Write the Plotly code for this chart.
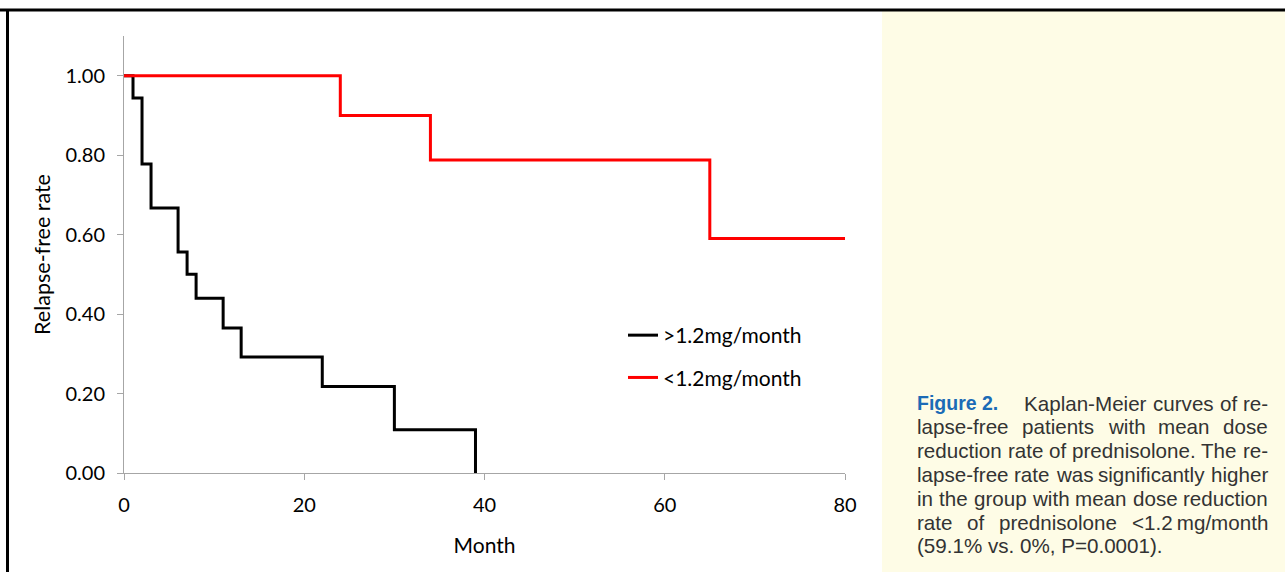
import plotly.graph_objects as go

# ---- data ----
month_high = [0, 1, 2, 3, 6, 7, 8, 11, 13, 22, 30, 39]
rate_high = [1.0, 0.944, 0.778, 0.667, 0.556, 0.500, 0.440, 0.365, 0.292, 0.218, 0.109, 0.0]

month_low = [0, 24, 34, 65, 80]
rate_low = [1.0, 0.900, 0.788, 0.590, 0.590]

series_names = [">1.2mg/month", "<1.2mg/month"]
x_ticks = [0, 20, 40, 60, 80]
y_ticks = [0.0, 0.2, 0.4, 0.6, 0.8, 1.0]

caption_lines = [
    ["Figure 2.", "Kaplan-Meier", "curves", "of", "re-"],
    ["lapse-free", "patients", "with", "mean", "dose"],
    ["reduction", "rate", "of", "prednisolone.", "The", "re-"],
    ["lapse-free", "rate", "was", "significantly", "higher"],
    ["in", "the", "group", "with", "mean", "dose", "reduction"],
    ["rate", "of", "prednisolone", "<1.2\u2009mg/month"],
    ["(59.1% vs. 0%, P=0.0001)."],
]

W, H = 1285, 572
L, R, T, B = 124, 845, 36, 473  # plot area pixel box


def px(p):
    return (p - L) / (R - L)


def py(p):
    return (B - p) / (B - T)


AX_FONT = "Lato, 'Open Sans', sans-serif"
CAP_FONT = "'Liberation Sans', Arial, Helvetica, sans-serif"
GRAY = "#a6a6a6"

fig = go.Figure()
fig.add_trace(go.Scatter(x=month_high, y=rate_high, mode="lines", line_shape="hv",
                         line=dict(color="#000000", width=3), name=series_names[0],
                         legendgroup="a"))
fig.add_trace(go.Scatter(x=month_low, y=rate_low, mode="lines", line_shape="hv",
                         line=dict(color="#ff0000", width=3), name=series_names[1],
                         legendgroup="b"))

fig.update_layout(
    width=W, height=H,
    margin=dict(l=L, r=W - R, t=T, b=H - B, pad=0),
    paper_bgcolor="white", plot_bgcolor="white",
    font=dict(family=AX_FONT, size=20, color="#000000"),
    showlegend=True,
    legend=dict(x=px(623), y=py(315), xanchor="left", yanchor="top",
                bgcolor="rgba(0,0,0,0)", font=dict(family=AX_FONT, size=21),
                tracegroupgap=12, traceorder="grouped"),
    xaxis=dict(range=[0, 80], tickvals=x_ticks, ticktext=[str(v) for v in x_ticks],
               showgrid=False, zeroline=False, showline=True, linecolor=GRAY, linewidth=1,
               ticks="outside", ticklen=6, tickcolor=GRAY, tickfont=dict(size=20),
               ticklabelstandoff=8,
               title=dict(text="Month", font=dict(size=21), standoff=23)),
    yaxis=dict(range=[0, 1.1], tickvals=y_ticks, tickformat=".2f",
               showgrid=False, zeroline=False, showline=True, linecolor=GRAY, linewidth=1,
               ticks="outside", ticklen=6, tickcolor=GRAY, tickfont=dict(size=20),
               ticklabelstandoff=8,
               title=dict(text="Relapse-free rate", font=dict(size=21.5), standoff=8)),
)

# background panel + frame lines
shapes = [
    dict(type="rect", xref="paper", yref="paper", x0=px(882), x1=px(W + 5), y0=py(H + 5), y1=py(10),
         fillcolor="#fefce6", line=dict(width=0), layer="below"),
    dict(type="line", xref="paper", yref="paper", x0=px(-5), x1=px(W + 5), y0=py(10), y1=py(10),
         line=dict(color="#000000", width=3)),
    dict(type="line", xref="paper", yref="paper", x0=px(7.5), x1=px(7.5), y0=py(10), y1=py(H + 5),
         line=dict(color="#000000", width=3)),
]
fig.update_layout(shapes=shapes)

# ---- caption: justified text built from Arial-metric widths ----
ARIAL = {" ": 278, "!": 278, "%": 889, "(": 333, ")": 333, ",": 278, "-": 333, ".": 278,
         "/": 278, ":": 278, "<": 584, "=": 584, ">": 584, "\u2009": 200}
for ch in "0123456789":
    ARIAL[ch] = 556
upper = dict(A=667, B=667, C=722, D=722, E=667, F=611, G=778, H=722, I=278, J=500, K=667, L=556,
             M=833, N=722, O=778, P=667, Q=778, R=722, S=667, T=611, U=722, V=667, W=944, X=667,
             Y=667, Z=611)
lower = dict(a=556, b=556, c=500, d=556, e=556, f=278, g=556, h=556, i=222, j=222, k=500, l=222,
             m=833, n=556, o=556, p=556, q=556, r=333, s=500, t=278, u=556, v=500, w=722, x=500,
             y=500, z=500)
ARIAL.update(upper)
ARIAL.update(lower)
ARIAL_BOLD = {"F": 611, "i": 278, "g": 611, "u": 611, "r": 389, "e": 556, " ": 278, "2": 556, ".": 278}

CAP_SIZE = 20.6
FIG_SIZE = 19.5
FIG_GAP = 20
TXT = "#333333"
BLUE = "#1b6bb6"
LEFT, RIGHT = 915, 1266
line_y = [403 + 23.8 * i for i in range(7)]


def text_width(s, table, size):
    return sum(table.get(c, 556) for c in s) * size / 1000.0


ann = []
for i, words in enumerate(caption_lines):
    widths = []
    for j, w in enumerate(words):
        if i == 0 and j == 0:
            widths.append(text_width(w, ARIAL_BOLD, FIG_SIZE))
        else:
            widths.append(text_width(w, ARIAL, CAP_SIZE))
    justify = i < len(caption_lines) - 1 and len(words) > 1
    extra = FIG_GAP if i == 0 else 0
    gap = (RIGHT - LEFT - sum(widths) - extra) / (len(words) - 1) if justify else 0
    x = LEFT
    for j, w in enumerate(words):
        is_fig = i == 0 and j == 0
        ann.append(dict(
            text=f"<b>{w}</b>" if is_fig else w,
            x=px(x), y=py(line_y[i]), xref="paper", yref="paper",
            xanchor="left", yanchor="middle", showarrow=False,
            font=dict(family=CAP_FONT, size=FIG_SIZE if is_fig else CAP_SIZE,
                      color=BLUE if is_fig else TXT)))
        x += widths[j] + gap + (FIG_GAP if is_fig else 0)

fig.update_layout(annotations=ann)

fig.write_html("out.html", config={"displayModeBar": False},
               post_script="document.body.style.margin='0px';")
